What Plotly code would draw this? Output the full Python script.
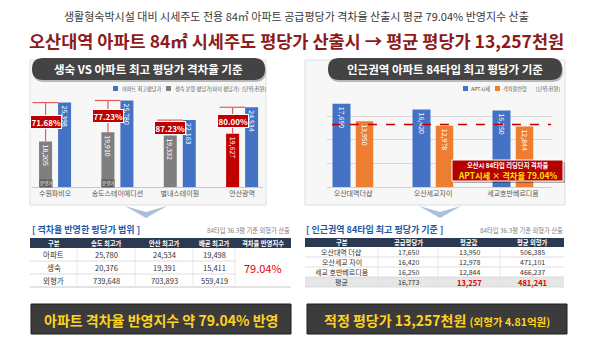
import plotly.graph_objects as go

W, H = 590, 339
FONT = "Noto Sans CJK KR"

# ---------------- data ----------------
title_sub = "생활형숙박시설 대비 시세주도 전용 84㎡ 아파트 공급평당가 격차율 산출시 평균 79.04% 반영지수 산출"

left_sites = ["수원파비오", "송도스테이에디션", "별내스테이원", "안산광역"]
left_sengsuk = [18205, 19910, 19332, 19627]      # 생숙 분양 평당가
left_apt = [25398, 25780, 22163, 24534]          # 아파트 최고평당가
left_gap_pct = ["71.68%", "77.23%", "87.23%", "80.00%"]

right_sites = ["오산대역더샵", "오산세교자이", "세교호반베르디움"]
right_apt = [17650, 16420, 16250]                # APT시세
right_reflect = [13950, 12978, 12844]            # 격차율반영
right_avg = 13257
gap_index = "79.04%"

range_cols = ["구분", "송도 최고가", "안산 최고가", "배곧 최고가", "격차율 반영지수"]
range_rows = ["아파트", "생숙", "외형가"]
range_apt = [25780, 24534, 19498]
range_sengsuk = [20376, 19391, 15411]
range_outer = [739648, 703893, 559419]

near_cols = ["구분", "공급평당가", "평균값", "평균 외형가"]
near_rows = ["오산대역 더샵", "오산세교 자이", "세교 호반베르디움", "평균"]
near_supply = [17650, 16420, 16250, 16773]
near_avg = [13950, 12978, 12844, 13257]
near_outer = [506385, 471101, 466237, 481241]

# ---------------- styles ----------------
BLUE, GRAY, RED, ORANGE = "#4472c4", "#7f7f7f", "#c00000", "#ed7d31"
NAVY = "#2b3a52"
YELLOW = "#ffd21f"


def X(px):
    return px / W


def Y(py):
    return 1 - py / H


shapes, annots = [], []


def txt(x, y, s, size, color, bold=False, xanchor="center"):
    annots.append(dict(x=X(x), y=Y(y), xref="paper", yref="paper",
                       text=f"<b>{s}</b>" if bold else s, showarrow=False,
                       font=dict(size=size, color=color, family=FONT),
                       xanchor=xanchor, yanchor="middle", borderpad=0))


def rect(x0, y0, x1, y1, fill, line=None, lw=0, layer="below"):
    shapes.append(dict(type="rect", xref="paper", yref="paper",
                       x0=X(x0), x1=X(x1), y0=Y(y1), y1=Y(y0),
                       fillcolor=fill, line=dict(color=line or fill, width=lw),
                       layer=layer))


def hline(x0, x1, y, color, w=1, layer="above"):
    shapes.append(dict(type="line", xref="paper", yref="paper",
                       x0=X(x0), x1=X(x1), y0=Y(y), y1=Y(y),
                       line=dict(color=color, width=w), layer=layer))


def vline(x, y0, y1, color, w=1, layer="above"):
    shapes.append(dict(type="line", xref="paper", yref="paper",
                       x0=X(x), x1=X(x), y0=Y(y0), y1=Y(y1),
                       line=dict(color=color, width=w), layer=layer))


def pill(x0, y0, x1, y1, fill, layer="above"):
    r = (y1 - y0) / 2
    pts = [("M", x0 + r, y0), ("L", x1 - r, y0), ("Q", x1, y0, x1, y0 + r),
           ("Q", x1, y1, x1 - r, y1), ("L", x0 + r, y1), ("Q", x0, y1, x0, y0 + r),
           ("Q", x0, y0, x0 + r, y0)]
    d = ""
    for p in pts:
        if p[0] == "Q":
            d += f"Q{X(p[1])},{Y(p[2])} {X(p[3])},{Y(p[4])} "
        else:
            d += f"{p[0]}{X(p[1])},{Y(p[2])} "
    shapes.append(dict(type="path", xref="paper", yref="paper", path=d + "Z",
                       fillcolor=fill, line=dict(width=0), layer=layer))


def chevron(cx, y0):
    d = (f"M{X(cx-21)},{Y(y0)} L{X(cx)},{Y(y0+6)} L{X(cx+21)},{Y(y0)} "
         f"L{X(cx)},{Y(y0+12)} Z")
    shapes.append(dict(type="path", xref="paper", yref="paper", path=d,
                       fillcolor="#a9bfdc", line=dict(width=0), layer="above"))


# ---------------- headline ----------------
txt(296, 16, title_sub, 11, "#3a3a3a")
txt(297, 40, f"<b>오산대역 아파트 84㎡ 시세주도 평당가 산출시 → 평균 평당가 {right_avg:,}천원</b>",
    17.5, "#8e1b1b")

# ---------------- chart panels ----------------
rect(30, 60, 266, 205, "#f7f7f7", "#dedede", 1)
rect(305, 60, 565, 205, "#f7f7f7", "#dedede", 1)
pill(33, 60, 266, 82, "rgba(0,0,0,0.25)")
pill(32, 58, 265, 80, "#434343")
pill(329, 60, 563, 82, "rgba(0,0,0,0.25)")
pill(328, 58, 562, 80, "#434343")
txt(148.5, 69, "생숙 VS 아파트 최고 평당가 격차율 기준", 11.5, "white", bold=True)
txt(445, 69, "인근권역 아파트 84타입 최고 평당가 기준", 11.5, "white", bold=True)

# legends
rect(113, 86, 118, 91, BLUE)
txt(121, 88.5, "아파트 최고평당가", 5.2, "#555", xanchor="left")
rect(166, 86, 171, 91, GRAY)
txt(174, 88.5, "생숙 분양 평당가(하이 평당가)", 5.2, "#555", xanchor="left")
txt(241, 88.5, "[단위:천원]", 5.2, "#555", xanchor="left")
rect(463, 86, 468, 91, BLUE)
txt(470, 88.5, "APT시세", 5.2, "#555", xanchor="left")
rect(495, 86, 500, 91, ORANGE)
txt(502, 88.5, "격차율반영", 5.2, "#555", xanchor="left")
txt(535, 88.5, "[단위:천원]", 5.2, "#555", xanchor="left")

fig = go.Figure()

# left chart: 생숙 vs 아파트
L_UNIT = 62.35          # px per category on the left chart
L_W = 13 / L_UNIT
L_OFF = 9.5 / L_UNIT
bar_font = dict(size=7, color="white", family=FONT)
fig.add_trace(go.Bar(
    x=left_sites, y=left_sengsuk, xaxis="x", yaxis="y",
    marker=dict(color=[GRAY, GRAY, GRAY, RED], line_width=0),
    width=L_W, offset=-L_OFF - L_W / 2,
    text=[f"{v:,}" for v in left_sengsuk], textposition="inside",
    insidetextanchor="end", textangle=90, constraintext="none",
    textfont=bar_font, showlegend=False))
fig.add_trace(go.Bar(
    x=left_sites, y=left_apt, xaxis="x", yaxis="y",
    marker=dict(color=BLUE, line_width=0),
    width=L_W, offset=L_OFF - L_W / 2,
    text=[f"{v:,}" for v in left_apt], textposition="inside",
    insidetextanchor="end", textangle=90, constraintext="none",
    textfont=bar_font, showlegend=False))

# gap markers: bracket from apartment top down to 생숙 top, with ratio badge
for i, (s, a, pct) in enumerate(zip(left_sengsuk, left_apt, left_gap_pct)):
    gx = i - L_OFF
    shapes.append(dict(type="line", xref="x", yref="y", x0=gx - L_W, x1=i + L_OFF - L_W / 2,
                       y0=a, y1=a, line=dict(color="#e35d5d", width=1.2), layer="above"))
    shapes.append(dict(type="line", xref="x", yref="y", x0=gx, x1=gx,
                       y0=a, y1=s, line=dict(color="#e35d5d", width=1.2), layer="above"))
    annots.append(dict(x=gx, y=(a + s) / 2, xref="x", yref="y", text=f"<b>{pct}</b>",
                       showarrow=False, bgcolor=RED, bordercolor="white", borderwidth=1,
                       borderpad=0.5, font=dict(size=8, color="white", family=FONT)))
for i in (0, 1):
    annots.append(dict(x=i - L_OFF, y=10500, xref="x", yref="y", text="분양가",
                       showarrow=False, font=dict(size=4.5, color="white", family=FONT),
                       bgcolor="#5f5f5f", borderpad=0))

# right chart: 인근권역
R_UNIT = 80.0
R_OFF = 11.5 / R_UNIT
fig.add_trace(go.Bar(
    x=right_sites, y=right_apt, xaxis="x2", yaxis="y2",
    marker=dict(color=BLUE, line_width=0),
    width=18 / R_UNIT, offset=-R_OFF - 9 / R_UNIT,
    text=[f"{v:,}" for v in right_apt], textposition="inside",
    insidetextanchor="end", textangle=90, constraintext="none",
    textfont=bar_font, showlegend=False))
fig.add_trace(go.Bar(
    x=right_sites, y=right_reflect, xaxis="x2", yaxis="y2",
    marker=dict(color=ORANGE, line_width=0),
    width=17.5 / R_UNIT, offset=R_OFF - 8.75 / R_UNIT,
    text=[f"{v:,}" for v in right_reflect], textposition="inside",
    insidetextanchor="end", textangle=90, constraintext="none",
    textfont=bar_font, showlegend=False))
shapes.append(dict(type="line", xref="x2 domain", yref="y2", x0=0.022, x1=0.996,
                   y0=right_avg, y1=right_avg,
                   line=dict(color=RED, width=1.5, dash="dash"), layer="above"))

# callout
rect(454, 162, 565, 183, "rgba(0,0,0,0.3)", layer="above")
rect(452, 160, 563, 181, "#b40000", "white", 1, layer="above")
txt(507.5, 165.5, "오산시 84타입 리딩단지 격차율", 6.3, "white", bold=True)
txt(507.5, 174.5, f"APT시세 × 격차율 {gap_index}", 8.3, "#ffe600", bold=True)

# arrows under the panels
chevron(146, 206)
chevron(440, 206)

# ---------------- left table ----------------
txt(31, 229, "[ 격차율 반영한 평당가 범위 ]", 9, "#1d57a8", bold=True, xanchor="left")
txt(291, 230, "84타입 36.3평 기준 외형가 산출", 6.3, "#808080", xanchor="right")
lx = [30, 77, 135, 193, 235, 291]
rect(lx[0], 238, lx[-1], 248, NAVY)
for c, name in enumerate(range_cols):
    txt((lx[c] + lx[c + 1]) / 2, 243, name, 6.3, "white", bold=True)
ly = [248, 261, 274, 287]
rect(lx[0], ly[0], lx[-1], ly[-1], "white")
table_vals = [range_apt, range_sengsuk, range_outer]
for r, (name, vals) in enumerate(zip(range_rows, table_vals)):
    cy = (ly[r] + ly[r + 1]) / 2
    txt((lx[0] + lx[1]) / 2, cy, name, 7.5, "#333")
    for c, v in enumerate(vals):
        txt((lx[c + 1] + lx[c + 2]) / 2, cy, f"{v:,}", 7.5, "#333")
    if r < 2:
        hline(lx[0], lx[4], ly[r + 1], "#d6d6d6", 0.8)
hline(lx[0], lx[-1], ly[-1], "#c8c8c8", 1)
for xv in lx[1:5]:
    vline(xv, ly[0], ly[-1], "#e2e2e2", 0.8)
txt((lx[4] + lx[5]) / 2, (ly[0] + ly[-1]) / 2, gap_index, 11, "#e00000")

# ---------------- right table ----------------
txt(305, 229, "[ 인근권역 84타입 최고 평당가 기준 ]", 9, "#1d57a8", bold=True, xanchor="left")
txt(564, 230, "84타입 36.3평 기준 외형가 산출", 6.3, "#808080", xanchor="right")
rx = [305, 378, 438, 500, 564]
rect(rx[0], 238, rx[-1], 247, NAVY)
for c, name in enumerate(near_cols):
    txt((rx[c] + rx[c + 1]) / 2, 242.5, name, 6.3, "white", bold=True)
ry = [247, 257, 267, 277, 287]
rect(rx[0], ry[0], rx[-1], ry[3], "white")
rect(rx[0], ry[3], rx[-1], ry[4], "#e6e6e6")
for r, name in enumerate(near_rows):
    cy = (ry[r] + ry[r + 1]) / 2
    last = r == len(near_rows) - 1
    cells = [f"{near_supply[r]:,}", f"{near_avg[r]:,}", f"{near_outer[r]:,}"]
    txt((rx[0] + rx[1]) / 2, cy, name, 7, "#333")
    for c, s in enumerate(cells):
        hot = last and c > 0
        txt((rx[c + 1] + rx[c + 2]) / 2, cy, s, 7.5 if hot else 7,
            "#e00000" if hot else "#333", bold=hot)
    hline(rx[0], rx[-1], ry[r + 1], "#d6d6d6", 0.8)
for xv in rx[1:4]:
    vline(xv, ry[0], ry[-1], "#e2e2e2", 0.8)

# ---------------- bottom banners ----------------
rect(31, 304, 291, 334, "#3b3b3b", "#1e1e1e", 1, layer="above")
txt(161, 319.5, f"아파트 격차율 반영지수 약 {gap_index} 반영", 14, YELLOW, bold=True)
rect(307, 304, 567, 334, "#3b3b3b", "#1e1e1e", 1, layer="above")
txt(437, 319.5,
    f"적정 평당가 {right_avg:,}천원 <span style='font-size:10.5px'>(외형가 {near_outer[-1] / 100000:.2f}억원)</span>",
    14, YELLOW, bold=True)

# ---------------- layout ----------------
axis_font = dict(size=7, color="#595959", family=FONT)
fig.update_layout(
    width=W, height=H, autosize=False,
    margin=dict(l=0, r=0, t=0, b=0),
    paper_bgcolor="white", plot_bgcolor="rgba(0,0,0,0)",
    barmode="overlay", showlegend=False,
    uniformtext=dict(minsize=7, mode="show"),
    font=dict(family=FONT),
    shapes=shapes, annotations=annots,
    xaxis=dict(domain=[X(32), X(263)], range=[-0.37, 3.335], type="category",
               anchor="y", tickfont=axis_font, ticks="", showgrid=False,
               showline=True, linecolor="#c8c8c8", linewidth=1, fixedrange=True),
    yaxis=dict(domain=[Y(187), Y(95)], range=[9800, 26800], showgrid=False,
               showticklabels=False, zeroline=False, anchor="x", fixedrange=True),
    xaxis2=dict(domain=[X(327), X(552)], range=[-0.325, 2.4875], type="category",
                anchor="y2", tickfont=axis_font, ticks="", showgrid=False,
                showline=True, linecolor="#d0d0d0", linewidth=1, fixedrange=True),
    yaxis2=dict(domain=[Y(187), Y(92.7)], range=[0, 20000], dtick=5000,
                showgrid=True, gridcolor="#d9d9d9", gridwidth=1,
                showticklabels=False, zeroline=False, anchor="x2", fixedrange=True),
)

fig.write_html("out.html")
